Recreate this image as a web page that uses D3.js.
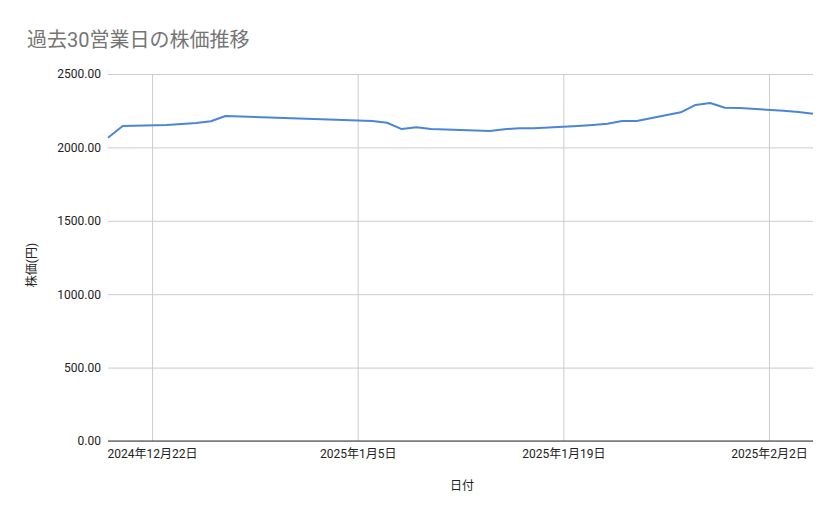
<!DOCTYPE html>
<html><head><meta charset="utf-8">
<script src="https://cdn.jsdelivr.net/npm/d3@7"></script>
<style>
html,body{margin:0;padding:0;background:#fff;}
text{font-family:Roboto,"Noto Sans CJK JP",sans-serif;}
</style></head>
<body><svg id="c" width="839" height="519"></svg>
<script>
const dates = ["2024-12-19","2024-12-20","2024-12-23","2024-12-24","2024-12-25","2024-12-26","2024-12-27","2024-12-30",
"2025-01-06","2025-01-07","2025-01-08","2025-01-09","2025-01-10","2025-01-14","2025-01-15","2025-01-16","2025-01-17",
"2025-01-20","2025-01-21","2025-01-22","2025-01-23","2025-01-24","2025-01-27","2025-01-28","2025-01-29","2025-01-30","2025-01-31",
"2025-02-03","2025-02-04","2025-02-05"];
const prices = [2066,2146,2153,2159,2166,2178,2214,2203,
2180,2168,2125,2137,2125,2112,2124,2130,2131,
2146,2153,2161,2180,2180,2239,2289,2302,2270,2268,
2250,2241,2229];
const yTicks = [0,500,1000,1500,2000,2500];
const xTickDates = ["2024-12-22","2025-01-05","2025-01-19","2025-02-02"];
const title = "過去30営業日の株価推移";
const yTitle = "株価(円)";
const xTitle = "日付";

const parse = d3.timeParse("%Y-%m-%d");
const data = dates.map((d,i)=>({date:parse(d), v:prices[i]}));
const svg = d3.select("#c");
const L=108, R=813, T=74, B=441;
const x = d3.scaleTime().domain([parse("2024-12-19"), parse("2025-02-05")]).range([L,R]);
const y = d3.scaleLinear().domain([0,2500]).range([B,T]);

svg.append("text").attr("x",27).attr("y",47).attr("font-size",20).attr("fill","#757575").text(title);

const gy = svg.append("g").attr("transform",`translate(${L},0)`)
  .call(d3.axisLeft(y).tickValues(yTicks).tickFormat(d3.format(".2f")).tickSize(-(R-L)).tickPadding(7));
gy.select(".domain").remove();
gy.selectAll(".tick line").attr("stroke","#cccccc");
gy.selectAll(".tick text").attr("font-size",12).attr("fill","#222");

const gx = svg.append("g").attr("transform",`translate(0,${B})`)
  .call(d3.axisBottom(x).tickValues(xTickDates.map(parse))
    .tickFormat(d=>`${d.getFullYear()}年${d.getMonth()+1}月${d.getDate()}日`).tickSize(-(B-T)).tickPadding(6));
gx.select(".domain").remove();
gx.selectAll(".tick line").attr("stroke","#cccccc");
gx.selectAll(".tick text").attr("font-size",12).attr("fill","#222").attr("dy","0.9em");

svg.append("line").attr("x1",L).attr("x2",R).attr("y1",y(0)).attr("y2",y(0)).attr("stroke","#333").attr("stroke-width",1);

svg.append("path").datum(data)
  .attr("d", d3.line().x(d=>x(d.date)).y(d=>y(d.v)))
  .attr("fill","none").attr("stroke","#4a86d8").attr("stroke-width",2).attr("stroke-linejoin","round");

svg.append("text").attr("transform",`translate(36,265) rotate(-90)`).attr("text-anchor","middle")
  .attr("font-size",12).attr("fill","#222").text(yTitle);
svg.append("text").attr("x",462).attr("y",490).attr("text-anchor","middle")
  .attr("font-size",12).attr("fill","#222").text(xTitle);
</script></body></html>
